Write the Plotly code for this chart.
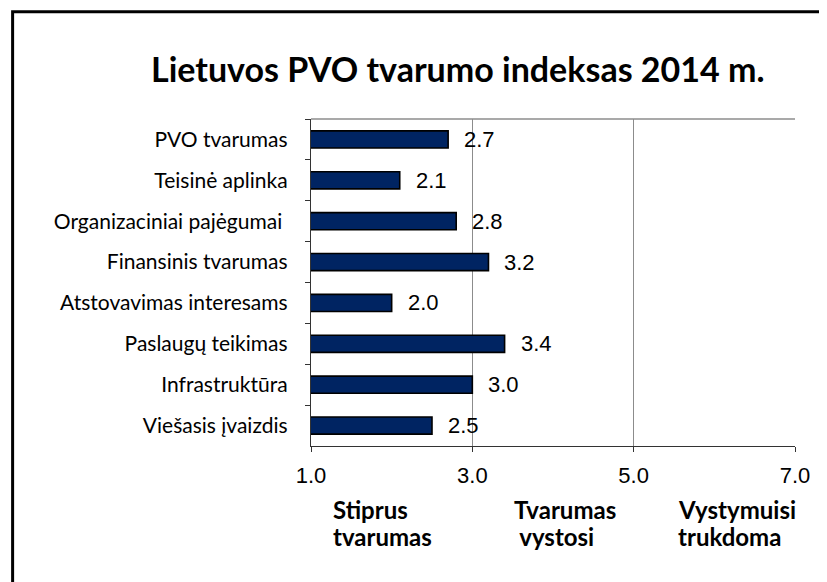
import plotly.graph_objects as go

categories = ["PVO tvarumas", "Teisinė aplinka", "Organizaciniai pajėgumai ",
              "Finansinis tvarumas", "Atstovavimas interesams", "Paslaugų teikimas",
              "Infrastruktūra", "Viešasis įvaizdis"]
values = [2.7, 2.1, 2.8, 3.2, 2.0, 3.4, 3.0, 2.5]
x_ticks = [1.0, 3.0, 5.0, 7.0]
zone_line1 = ["Stiprus", "Tvarumas", "Vystymuisi"]
zone_line2 = ["tvarumas", "\u00a0vystosi", "trukdoma"]
zone_x = [1.25, 3.49, 5.52]

OFF = 8  # page body margin
SW, SH = 827, 582
W, H = SW - OFF, SH - OFF
# plot area in screen pixels
PX0, PX1, PY0, PY1 = 310.5, 795.5, 119, 446.5
L, T = PX0 - OFF, PY0 - OFF
R, B = SW - PX1, SH - PY1
pw, ph = PX1 - PX0, PY1 - PY0

def sx(px):
    return (px - PX0) / pw

def sy(py):
    return 1 - (py - PY0) / ph

fig = go.Figure()
fig.add_trace(go.Bar(
    y=categories, x=values, orientation="h", width=0.42,
    marker=dict(color="#002462", line=dict(color="black", width=1.6)),
    hoverinfo="x+y",
))

for c, v in zip(categories, values):
    fig.add_annotation(x=v, y=c, text=f"{v:.1f}", showarrow=False,
                       xanchor="left", xshift=14,
                       font=dict(family="Liberation Sans, Arial", size=22, color="black"))

for a, b, xv in zip(zone_line1, zone_line2, zone_x):
    fig.add_annotation(x=xv, y=sy(510), yref="paper", text=f"<b>{a}</b>",
                       showarrow=False, xanchor="left", yanchor="middle",
                       font=dict(family="Lato", size=24, color="black"))
    fig.add_annotation(x=xv, y=sy(537), yref="paper", text=f"<b>{b}</b>",
                       showarrow=False, xanchor="left", yanchor="middle",
                       font=dict(family="Lato", size=24, color="black"))

fig.add_annotation(x=sx(458), y=sy(68), xref="paper", yref="paper",
                   text="<b>Lietuvos PVO tvarumo indeksas 2014 m.</b>", showarrow=False,
                   xanchor="center", yanchor="middle",
                   font=dict(family="Lato", size=34, color="black"))

# outer frame
fig.add_shape(type="rect", xref="paper", yref="paper",
              x0=sx(11.5), x1=sx(850), y0=sy(620), y1=sy(11.5),
              line=dict(color="black", width=3), layer="below")
# top border of plot area
fig.add_shape(type="line", xref="paper", yref="paper", x0=0, x1=1, y0=1, y1=1,
              line=dict(color="#8c8c8c", width=1.5))

fig.update_layout(
    width=W, height=H, margin=dict(l=L, r=R, t=T, b=B),
    plot_bgcolor="white", paper_bgcolor="white", showlegend=False,
    xaxis=dict(range=[1, 7], tickvals=x_ticks, ticktext=[f"{v:.1f}" for v in x_ticks],
               showgrid=True, gridcolor="#8c8c8c", gridwidth=1.3,
               showline=True, linecolor="#333333", linewidth=1.3,
               ticks="outside", ticklen=5, tickcolor="#333333",
               ticklabelstandoff=4,
               tickfont=dict(family="Liberation Sans, Arial", size=22, color="black"),
               zeroline=False, fixedrange=True),
    yaxis=dict(autorange="reversed", tickson="boundaries",
               showline=True, linecolor="#333333", linewidth=1.3,
               ticks="outside", ticklen=5, tickcolor="#333333",
               ticklabelstandoff=18, showgrid=False,
               tickfont=dict(family="Lato", size=21, color="black"), fixedrange=True),
)

fig.write_html("out.html")
